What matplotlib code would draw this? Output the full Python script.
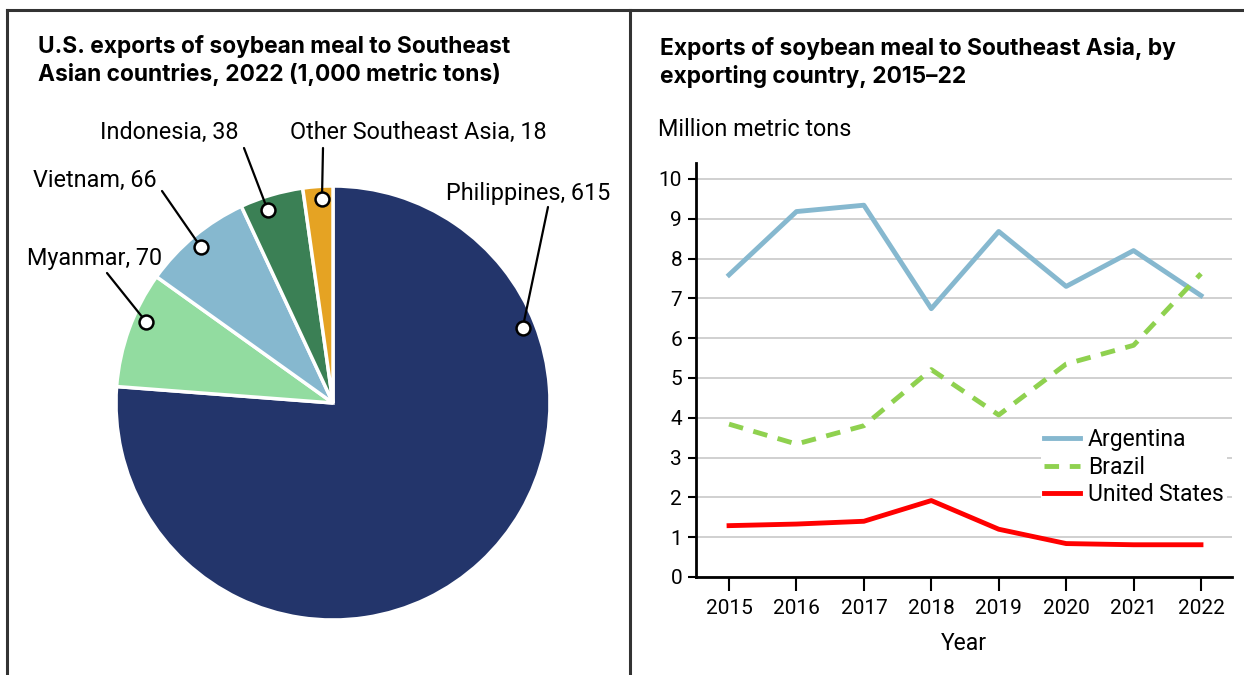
import numpy as np
import matplotlib
matplotlib.use('Agg')
import matplotlib.pyplot as plt
from matplotlib.lines import Line2D

plt.rcParams['font.family'] = ['Roboto', 'DejaVu Sans']

# Pie data (1,000 metric tons, 2022)
countries = ['Philippines', 'Myanmar', 'Vietnam', 'Indonesia', 'Other Southeast Asia']
us_exports_2022 = [615, 70, 66, 38, 18]
pie_colors = ['#23356B', '#92DCA0', '#86B8CF', '#3B8055', '#E5A323']

# Line data (million metric tons)
years = [2015, 2016, 2017, 2018, 2019, 2020, 2021, 2022]
argentina = [7.59, 9.18, 9.34, 6.74, 8.68, 7.30, 8.20, 7.07]
brazil = [3.84, 3.34, 3.80, 5.21, 4.07, 5.35, 5.82, 7.62]
united_states = [1.29, 1.33, 1.40, 1.92, 1.20, 0.84, 0.81, 0.81]

W, H = 1244, 675
fig = plt.figure(figsize=(W / 100, H / 100), dpi=100)

# panel frame lines
fig.add_artist(Line2D([7 / W, 1], [1 - 10 / H, 1 - 10 / H], color='#333333', lw=2.2))
fig.add_artist(Line2D([7 / W, 7 / W], [0, 1 - 10 / H], color='#333333', lw=2.2))
fig.add_artist(Line2D([630 / W, 630 / W], [0, 1 - 10 / H], color='#333333', lw=2.2))

title_font = dict(fontsize=16.4, fontweight='bold', family=['Inter', 'DejaVu Sans'])
fig.text(38 / W, 1 - 47 / H, 'U.S. exports of soybean meal to Southeast', va='center', **title_font)
fig.text(38 / W, 1 - 75 / H, 'Asian countries, 2022 (1,000 metric tons)', va='center', **title_font)
fig.text(660 / W, 1 - 48 / H, 'Exports of soybean meal to Southeast Asia, by', va='center', **title_font)
fig.text(660 / W, 1 - 76 / H, 'exporting country, 2015\u201322', va='center', **title_font)

# ---- pie ----
cx, cy, r = 333, 403, 217
ax1 = fig.add_axes([(cx - r) / W, (H - cy - r) / H, 2 * r / W, 2 * r / H])
wedges, _ = ax1.pie(us_exports_2022, colors=pie_colors, startangle=90, counterclock=False,
                    wedgeprops=dict(edgecolor='white', linewidth=2.5))
ax1.set_xlim(-1, 1)
ax1.set_ylim(-1, 1)

# label text position (px from top-left), leader line start, marker angle
label_pos = [(446, 194), (27, 258), (33, 180), (100, 132), (290, 132)]
line_start = [(548, 207), (107, 273), (162, 191), (244, 148), (323, 148)]
marker_angle = [21.6, 156.5, 130.3, 108.7, 93.1]

for i, w in enumerate(wedges):
    ang = np.radians(marker_angle[i])
    mx, my = 0.94 * np.cos(ang), 0.94 * np.sin(ang)
    sx, sy = line_start[i]
    ax1.annotate('', xy=(mx, my), xytext=(sx, H - sy), textcoords='figure pixels',
                 arrowprops=dict(arrowstyle='-', lw=1.6, color='black', shrinkA=0, shrinkB=0))
    ax1.plot(mx, my, 'o', ms=10, mfc='white', mec='black', mew=1.8, zorder=5, clip_on=False)
    tx, ty = label_pos[i]
    fig.text(tx / W, 1 - ty / H, f'{countries[i]}, {us_exports_2022[i]}', fontsize=16.8,
             va='center', ha='left')

# ---- line chart ----
ax2 = fig.add_axes([696 / W, 98 / H, (1232 - 696) / W, (577 - 163) / H])
ax2.plot(years, argentina, color='#86B8CF', lw=3.5, label='Argentina')
ax2.plot(years, brazil, color='#8FD14F', lw=3.5, ls=(0, (3, 2.2)), label='Brazil')
ax2.plot(years, united_states, color='#FF0000', lw=3.5, label='United States')

ax2.set_xlim(2014.51, 2022.46)
ax2.set_ylim(0, 10.4)
ax2.set_yticks(range(0, 11))
ax2.set_xticks(years)
ax2.yaxis.grid(True, color='#C8C8C8', lw=1.2)
ax2.set_axisbelow(True)
for s in ['top', 'right']:
    ax2.spines[s].set_visible(False)
for s in ['left', 'bottom']:
    ax2.spines[s].set_linewidth(2)
ax2.tick_params(axis='y', length=6, width=1.5, labelsize=15, pad=4)
ax2.tick_params(axis='x', length=10, width=1.5, labelsize=15, pad=6)
ax2.set_xlabel('Year', fontsize=16.5, labelpad=10)
fig.text(658 / W, 1 - 130 / H, 'Million metric tons', fontsize=16.8, va='center')

leg = ax2.legend(loc='upper left', bbox_to_anchor=(0.643, 0.368), frameon=True, fontsize=16.5,
                 handlelength=1.55, handletextpad=0.35, labelspacing=0.2, borderpad=0.15,
                 borderaxespad=0)
leg.get_frame().set_edgecolor('none')
leg.get_frame().set_facecolor('white')
leg.get_frame().set_alpha(1)

fig.savefig('out.png', dpi=100)
